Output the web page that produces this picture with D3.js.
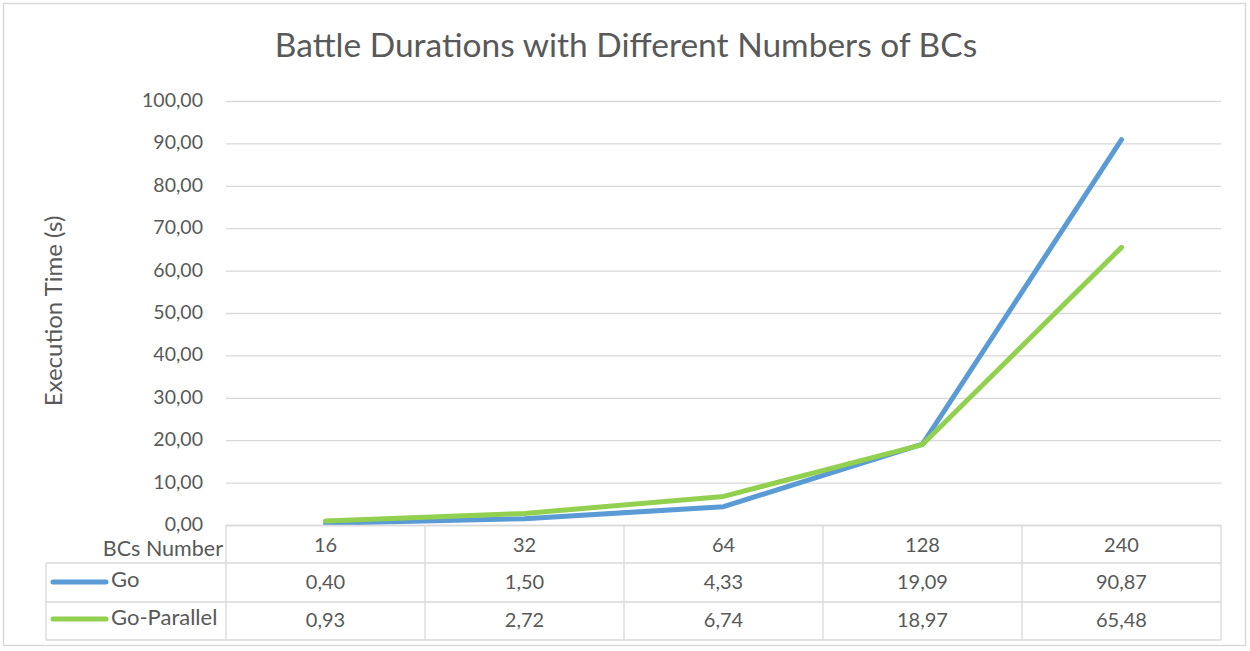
<!DOCTYPE html>
<html><head><meta charset="utf-8">
<script src="https://cdn.jsdelivr.net/npm/d3@7"></script>
<style>body{margin:0;background:#fff}svg{display:block}text{font-family:Lato,"Open Sans",sans-serif;fill:#595959}</style>
</head><body><svg id="c" width="1250" height="651"></svg>
<script>
const categories = ["16","32","64","128","240"];
const goValues = [0.40,1.50,4.33,19.09,90.87];
const goParallelValues = [0.93,2.72,6.74,18.97,65.48];
const seriesNames = ["Go","Go-Parallel"];
const yTicks = [0,10,20,30,40,50,60,70,80,90,100];
const title = "Battle Durations with Different Numbers of BCs";
const yTitle = "Execution Time (s)";
const xTitle = "BCs Number";

const colors = ["#5B9BD5","#92D050"];
const series = [goValues, goParallelValues];
const fmt = v => d3.format(".2f")(v).replace(".", ",");

const svg = d3.select("#c");
svg.append("rect").attr("x",3.5).attr("y",3.5).attr("width",1242).attr("height",642)
  .attr("fill","#fff").attr("stroke","#d9d9d9").attr("stroke-width",1.5);

const L=226, R=1221, T=101, B=525;
const x = d3.scaleBand().domain(categories).range([L,R]);
const y = d3.scaleLinear().domain([0,100]).range([B,T]);

svg.append("text").attr("x",626).attr("y",57).attr("text-anchor","middle")
  .style("font-size","33.5px").text(title);

// grid
const g = svg.append("g");
g.selectAll("line.grid").data(yTicks).join("line")
  .attr("x1",L).attr("x2",R).attr("y1",d=>y(d)+0.5).attr("y2",d=>y(d)+0.5)
  .attr("stroke","#d9d9d9").attr("stroke-width",1.3);
g.selectAll("text.yt").data(yTicks).join("text")
  .attr("x",203).attr("y",d=>y(d)+6).attr("text-anchor","end")
  .style("font-size","19.5px").text(fmt);

svg.append("text").attr("transform",`translate(62,311) rotate(-90)`).attr("text-anchor","middle")
  .style("font-size","24px").text(yTitle);

// lines
const line = d3.line().x((d,i)=>x(categories[i])+x.bandwidth()/2).y(d=>y(d));
series.forEach((s,k)=>{
  svg.append("path").datum(s).attr("d",line).attr("fill","none")
    .attr("stroke",colors[k]).attr("stroke-width",5).attr("stroke-linecap","round").attr("stroke-linejoin","round");
});

// data table
const rowBot=640;
const tb = svg.append("g").attr("stroke","#d9d9d9").attr("stroke-width",1.3);
const edges = [L].concat(categories.map(c=>x(c)+x.bandwidth()));
edges.forEach(e=>tb.append("line").attr("x1",e).attr("x2",e).attr("y1",525).attr("y2",rowBot));
tb.append("line").attr("x1",46).attr("x2",46).attr("y1",563).attr("y2",rowBot);
tb.append("line").attr("x1",L).attr("x2",R).attr("y1",525.5).attr("y2",525.5);
[563,602,rowBot].forEach(yy=>tb.append("line").attr("x1",46).attr("x2",R).attr("y1",yy).attr("y2",yy));

svg.selectAll("text.cat").data(categories).join("text")
  .attr("x",d=>x(d)+x.bandwidth()/2).attr("y",552).attr("text-anchor","middle")
  .style("font-size","20px").text(d=>d);
svg.append("text").attr("x",223).attr("y",556).attr("text-anchor","end").style("font-size","21.5px").text(xTitle);

const rowBase=[589,627], lineY=[582,619], nameBase=[587,625];
series.forEach((s,k)=>{
  svg.selectAll(null).data(s).join("text")
    .attr("x",(d,i)=>x(categories[i])+x.bandwidth()/2).attr("y",rowBase[k]).attr("text-anchor","middle")
    .style("font-size","20px").text(fmt);
  svg.append("line").attr("x1",53).attr("x2",106).attr("y1",lineY[k]).attr("y2",lineY[k])
    .attr("stroke",colors[k]).attr("stroke-width",5).attr("stroke-linecap","round");
  svg.append("text").attr("x",111).attr("y",nameBase[k]).style("font-size","22px").text(seriesNames[k]);
});
</script></body></html>
